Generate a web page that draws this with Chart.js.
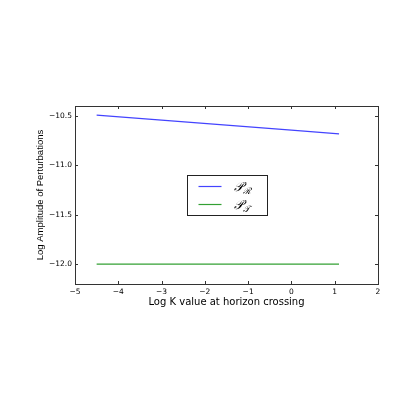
<!DOCTYPE html>
<html>
<head>
<meta charset="utf-8">
<script src="https://cdn.jsdelivr.net/npm/chart.js@4/dist/chart.umd.min.js"></script>
<style>
  html, body { margin: 0; padding: 0; background: #fff; }
  #wrap { width: 415px; height: 411px; }
</style>
</head>
<body>
<div id="wrap"><canvas id="chart" width="415" height="411"></canvas></div>
<script>
// values
const logK = [-4.5, -3, -1.5, 0, 1.1];
const ampR = [-10.493, -10.543, -10.594, -10.643, -10.682];
const ampT = [-12.0, -12.0, -12.0, -12.0, -12.0];
const xTicks = [-5, -4, -3, -2, -1, 0, 1, 2];
const yTicks = [-12.0, -11.5, -11.0, -10.5];
const seriesNames = [['𝒫', 'ℛ'], ['𝒫', '𝒯']];

const fmt = (v, d) => (v < 0 ? '\u2212' : '') + Math.abs(v).toFixed(d);

// frame, inward tick marks and the centred legend box
const frameAndLegend = {
    id: 'frameAndLegend',
    afterDraw(chart) {
        const ctx = chart.ctx;
        const a = chart.chartArea;
        const xs = chart.scales.x, ys = chart.scales.y;
        ctx.save();
        ctx.strokeStyle = '#333';
        ctx.lineWidth = 1;
        ctx.strokeRect(Math.round(a.left) + 0.5, Math.round(a.top) + 0.5,
            Math.round(a.right - a.left), Math.round(a.bottom - a.top));
        ctx.beginPath();
        xTicks.forEach(v => {
            const px = Math.round(xs.getPixelForValue(v)) + 0.5;
            ctx.moveTo(px, a.bottom); ctx.lineTo(px, a.bottom - 3);
            ctx.moveTo(px, a.top); ctx.lineTo(px, a.top + 3);
        });
        yTicks.forEach(v => {
            const py = Math.round(ys.getPixelForValue(v)) + 0.5;
            ctx.moveTo(a.left, py); ctx.lineTo(a.left + 3, py);
            ctx.moveTo(a.right, py); ctx.lineTo(a.right - 3, py);
        });
        ctx.stroke();

        // legend
        const w = 80, h = 40;
        const cx = (a.left + a.right) / 2, cy = (a.top + a.bottom) / 2;
        const bx = Math.round(cx - w / 2) + 0.5, by = Math.round(cy - h / 2) + 0.5;
        ctx.fillStyle = '#fff';
        ctx.fillRect(bx, by, w, h);
        ctx.strokeStyle = '#222';
        ctx.strokeRect(bx, by, w, h);
        chart.data.datasets.forEach((ds, i) => {
            const ly = Math.round(by + 10 + i * 18) + 0.5;
            ctx.strokeStyle = ds.borderColor;
            ctx.lineWidth = ds.borderWidth;
            ctx.beginPath();
            ctx.moveTo(bx + 11, ly); ctx.lineTo(bx + 34, ly);
            ctx.stroke();
            ctx.fillStyle = '#000';
            ctx.textBaseline = 'alphabetic';
            ctx.font = 'italic 13px "DejaVu Serif"';
            ctx.fillText(seriesNames[i][0], bx + 46, ly + 4);
            const pw = ctx.measureText(seriesNames[i][0]).width;
            ctx.font = 'italic 9px "DejaVu Serif"';
            ctx.fillText(seriesNames[i][1], bx + 46 + pw, ly + 7);
        });
        ctx.restore();
    }
};

const ctx = document.getElementById('chart').getContext('2d');
new Chart(ctx, {
    type: 'line',
    data: {
        datasets: [{
            label: 'P_R',
            data: logK.map((x, i) => ({ x: x, y: ampR[i] })),
            borderColor: '#4444ff',
            borderWidth: 1.2,
            pointRadius: 0,
            fill: false
        }, {
            label: 'P_T',
            data: logK.map((x, i) => ({ x: x, y: ampT[i] })),
            borderColor: '#33a033',
            borderWidth: 1.2,
            pointRadius: 0,
            fill: false
        }]
    },
    options: {
        responsive: false,
        animation: false,
        layout: { padding: { left: 31, right: 37, top: 106, bottom: 99 } },
        plugins: {
            legend: { display: false },
            tooltip: { enabled: false }
        },
        scales: {
            x: {
                type: 'linear',
                min: -5,
                max: 2,
                afterBuildTicks: s => { s.ticks = xTicks.map(v => ({ value: v })); },
                afterFit: s => { s.height = 28; },
                grid: { display: false, drawTicks: false },
                border: { display: false },
                ticks: {
                    padding: 4,
                    color: '#000',
                    font: { family: 'DejaVu Sans', size: 7.5 },
                    callback: v => fmt(v, 0)
                },
                title: {
                    display: true,
                    text: 'Log K value at horizon crossing',
                    color: '#000',
                    font: { family: 'DejaVu Sans', size: 10 }
                }
            },
            y: {
                type: 'linear',
                min: -12.2,
                max: -10.4,
                afterBuildTicks: s => { s.ticks = yTicks.map(v => ({ value: v })); },
                afterFit: s => { s.width = 44; },
                grid: { display: false, drawTicks: false },
                border: { display: false },
                ticks: {
                    padding: 3,
                    color: '#000',
                    font: { family: 'DejaVu Sans', size: 7.5 },
                    callback: v => fmt(v, 1)
                },
                title: {
                    display: true,
                    text: 'Log Amplitude of Perturbations',
                    color: '#000',
                    font: { family: 'Liberation Sans', size: 9.5 }
                }
            }
        }
    },
    plugins: [frameAndLegend]
});
</script>
</body>
</html>
